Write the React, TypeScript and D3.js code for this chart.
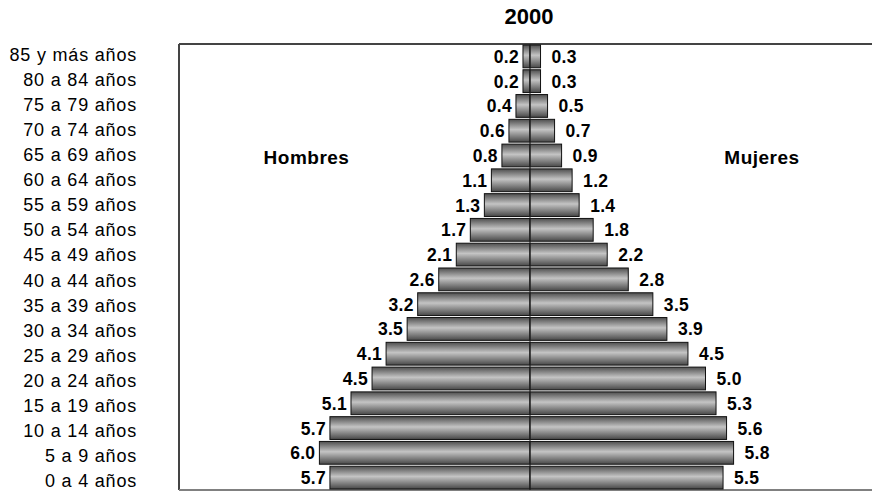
import React from "react";
import * as d3 from "d3";

const title = "2000";
const ageGroups = [
  "85 y más años",
  "80 a 84 años",
  "75 a 79 años",
  "70 a 74 años",
  "65 a 69 años",
  "60 a 64 años",
  "55 a 59 años",
  "50 a 54 años",
  "45 a 49 años",
  "40 a 44 años",
  "35 a 39 años",
  "30 a 34 años",
  "25 a 29 años",
  "20 a 24 años",
  "15 a 19 años",
  "10 a 14 años",
  "5 a 9 años",
  "0 a 4 años",
];
const hombres = [0.2, 0.2, 0.4, 0.6, 0.8, 1.1, 1.3, 1.7, 2.1, 2.6, 3.2, 3.5, 4.1, 4.5, 5.1, 5.7, 6.0, 5.7];
const mujeres = [0.3, 0.3, 0.5, 0.7, 0.9, 1.2, 1.4, 1.8, 2.2, 2.8, 3.5, 3.9, 4.5, 5.0, 5.3, 5.6, 5.8, 5.5];
const seriesNames = ["Hombres", "Mujeres"];

const W = 872;
const H = 493;
const plot = { left: 179, right: 881, top: 44, bottom: 490 };
const FONT = "'Liberation Sans', Arial, sans-serif";

export default function App() {
  const x = d3.scaleLinear().domain([-10, 10]).range([plot.left, plot.right]);
  const y = d3
    .scaleBand<string>()
    .domain(ageGroups)
    .range([plot.top, plot.bottom])
    .paddingInner(0.08)
    .paddingOuter(0.04);
  const yLab = d3.scaleBand<string>().domain(ageGroups).range([42, 494]);
  const x0 = x(0);

  return (
    <svg
      width={W}
      height={H}
      style={{ position: "absolute", left: 0, top: 0, background: "#fff" }}
      fontFamily={FONT}
    >
      <defs>
        <linearGradient id="cyl" x1="0" y1="0" x2="0" y2="1">
          <stop offset="0" stopColor="#4e4e4e" />
          <stop offset="0.45" stopColor="#c4c4c4" />
          <stop offset="1" stopColor="#474747" />
        </linearGradient>
      </defs>

      {/* frame */}
      <line x1={plot.left} x2={W} y1={plot.top} y2={plot.top} stroke="#444" strokeWidth={2} />
      <line x1={plot.left} x2={plot.left} y1={plot.top} y2={plot.bottom} stroke="#444" strokeWidth={2} />
      <line x1={plot.left} x2={W} y1={plot.bottom} y2={plot.bottom} stroke="#808080" strokeWidth={2} />

      {/* bars */}
      {ageGroups.map((g, i) => {
        const yb = y(g)!;
        const bh = y.bandwidth();
        const xm = x(-hombres[i]);
        const xf = x(mujeres[i]);
        return (
          <g key={g}>
            <rect x={xm} y={yb} width={x0 - xm} height={bh} fill="url(#cyl)" stroke="#111" strokeWidth={1} />
            <rect x={x0} y={yb} width={xf - x0} height={bh} fill="url(#cyl)" stroke="#111" strokeWidth={1} />
          </g>
        );
      })}

      {/* center line */}
      <line x1={x0} x2={x0} y1={plot.top} y2={plot.bottom} stroke="#222" strokeWidth={1} />

      {/* value labels */}
      {ageGroups.map((g, i) => {
        const cy = y(g)! + y.bandwidth() / 2 + 6.5;
        return (
          <g key={"l" + g} fontWeight="bold" fontSize={17.5} letterSpacing={0.3} fill="#000">
            <text x={x(-hombres[i]) - 4} y={cy} textAnchor="end">
              {hombres[i].toFixed(1)}
            </text>
            <text x={x(mujeres[i]) + 11} y={cy} textAnchor="start">
              {mujeres[i].toFixed(1)}
            </text>
          </g>
        );
      })}

      {/* category labels */}
      {ageGroups.map((g) => (
        <text
          key={"c" + g}
          x={137}
          y={yLab(g)! + yLab.bandwidth() / 2 + 6}
          textAnchor="end"
          fontSize={18}
          letterSpacing={0.8}
          fill="#000"
        >
          {g}
        </text>
      ))}

      {/* series names */}
      <text x={306.5} y={163.5} textAnchor="middle" fontWeight="bold" fontSize={19} letterSpacing={0.5}>
        {seriesNames[0]}
      </text>
      <text x={762} y={163.5} textAnchor="middle" fontWeight="bold" fontSize={19} letterSpacing={0.5}>
        {seriesNames[1]}
      </text>

      {/* title */}
      <text x={529} y={24} textAnchor="middle" fontWeight="bold" fontSize={22}>
        {title}
      </text>
    </svg>
  );
}
